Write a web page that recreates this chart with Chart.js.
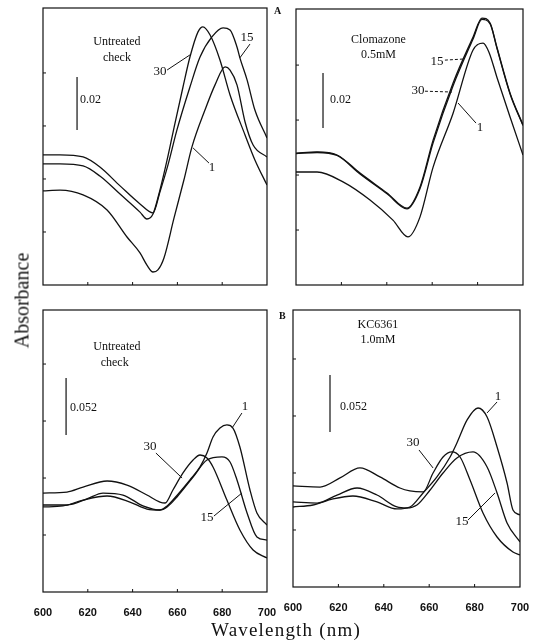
<!DOCTYPE html>
<html lang="en">

<head>
    <meta charset="UTF-8">
    <title>Absorbance spectra</title>
    <script src="https://cdn.jsdelivr.net/npm/chart.js@4.4.0/dist/chart.umd.min.js"></script>
    <style>
        body { margin: 0; background: #fff; }
        #page { position: relative; width: 536px; height: 644px; overflow: hidden; background: #fff; }
        canvas { position: absolute; }
        .lbl { position: absolute; font-family: "Liberation Serif", serif; color: #111; white-space: nowrap; }
    </style>
</head>

<body>
<div id="page">
    <canvas id="tl" width="244" height="295" style="left:33px;top:0px"></canvas>
    <canvas id="tr" width="240" height="295" style="left:286px;top:0px"></canvas>
    <canvas id="bl" width="264" height="322" style="left:23px;top:300px"></canvas>
    <canvas id="br" width="263" height="317" style="left:273px;top:300px"></canvas>

    <div class="lbl" style="left:274px;top:5px;font-size:10px;font-weight:bold">A</div>
    <div class="lbl" style="left:279px;top:310px;font-size:10px;font-weight:bold">B</div>
    <div class="lbl" style="left:-33px;top:289px;font-size:20px;transform:rotate(-90deg);width:110px;text-align:center">Absorbance</div>
    <div class="lbl" style="left:186px;top:619px;width:200px;text-align:center;font-size:19px;letter-spacing:1.2px">Wavelength (nm)</div>
</div>

<script>
    // wavelength ticks shared by all panels
    const xTicks = [600, 620, 640, 660, 680, 700];
    const yTicksA = [0.02, 0.04, 0.06, 0.08];
    const yTicksB = [0.052, 0.104, 0.156, 0.208];

    // A - untreated check (curves 1, 15, 30)
    const aCheckWl1 = [600, 607.6, 617.9, 628.6, 637.5, 643.3, 646.4, 649.1, 651.3, 654.0, 658.5, 662.9, 666.5, 672.3, 676.8, 681.3, 683.5, 686.6, 690.2, 693.8, 700];
    const aCheckAbs1 = [0.0355, 0.0358, 0.0340, 0.0283, 0.0181, 0.0121, 0.0075, 0.0049, 0.0057, 0.0102, 0.0253, 0.0396, 0.0521, 0.0660, 0.0755, 0.0823, 0.0811, 0.0755, 0.0615, 0.0528, 0.0483];
    const aCheckWl15 = [600, 607.6, 617.9, 625.4, 634.4, 643.3, 649.1, 652.2, 655.8, 659.8, 665.6, 670.1, 675.4, 680.4, 683.5, 686.6, 687.9, 691.1, 694.6, 700];
    const aCheckAbs15 = [0.0491, 0.0491, 0.0483, 0.0445, 0.0374, 0.0306, 0.0272, 0.0351, 0.0453, 0.0585, 0.0747, 0.0860, 0.0936, 0.0970, 0.0962, 0.0898, 0.0857, 0.0774, 0.0660, 0.0555];
    const aCheckWl30 = [600, 607.6, 617.9, 625.4, 634.4, 643.3, 646.4, 649.1, 652.2, 655.4, 658.0, 662.5, 665.6, 669.2, 671.4, 674.6, 679.0, 683.5, 690.2, 694.6, 700];
    const aCheckAbs30 = [0.0457, 0.0457, 0.0449, 0.0411, 0.0343, 0.0275, 0.0249, 0.0268, 0.0358, 0.0472, 0.0574, 0.0747, 0.0860, 0.0955, 0.0974, 0.0943, 0.0849, 0.0717, 0.0566, 0.0472, 0.0377];

    // A - clomazone 0.5mM
    const aClomWl1 = [600, 609.3, 620.7, 632.6, 642.7, 649.3, 654.6, 660.4, 669.2, 678.0, 682.4, 685.0, 688.5, 694.3, 700];
    const aClomAbs1 = [0.0411, 0.0411, 0.0375, 0.0309, 0.0236, 0.0175, 0.0247, 0.0429, 0.0625, 0.0855, 0.0880, 0.0847, 0.0756, 0.0611, 0.0473];
    const aClomWl15 = [600, 609.3, 618.1, 628.2, 640.1, 648.9, 654.6, 660.4, 669.2, 678.0, 681.9, 685.5, 688.5, 694.3, 700];
    const aClomAbs15 = [0.0480, 0.0484, 0.0473, 0.0407, 0.0335, 0.0280, 0.0356, 0.0527, 0.0735, 0.0902, 0.0971, 0.0953, 0.0865, 0.0698, 0.0582];
    const aClomWl30 = [600, 609.3, 618.1, 628.2, 640.1, 648.9, 654.6, 660.4, 669.2, 678.0, 681.9, 685.5, 688.5, 694.3, 700];
    const aClomAbs30 = [0.0478, 0.0482, 0.0471, 0.0404, 0.0332, 0.0277, 0.0350, 0.0517, 0.0725, 0.0895, 0.0966, 0.0950, 0.0862, 0.0695, 0.0580];

    // B - untreated check
    const bCheckWl1 = [600, 608.9, 617.9, 628.6, 638.8, 646.4, 652.2, 655.4, 658.0, 665.6, 670.1, 673.2, 675.9, 679.0, 682.1, 684.8, 687.9, 692.4, 695.5, 700];
    const bCheckAbs1 = [0.0776, 0.0785, 0.0839, 0.0876, 0.0821, 0.0757, 0.0748, 0.0785, 0.0839, 0.1022, 0.1141, 0.1268, 0.1414, 0.1496, 0.1524, 0.1496, 0.1323, 0.0931, 0.0721, 0.0611];
    const bCheckWl15 = [600, 610.7, 619.6, 626.8, 635.7, 644.6, 649.1, 652.2, 655.4, 659.8, 667.0, 673.2, 679.9, 683.5, 686.6, 691.1, 695.5, 700];
    const bCheckAbs15 = [0.0794, 0.0794, 0.0849, 0.0903, 0.0885, 0.0785, 0.0757, 0.0748, 0.0776, 0.0867, 0.1049, 0.1204, 0.1232, 0.1186, 0.1022, 0.0721, 0.0502, 0.0474];
    const bCheckWl30 = [600, 610.7, 617.9, 628.6, 637.5, 646.4, 652.2, 654.5, 658.0, 662.5, 667.0, 670.1, 673.2, 675.9, 682.1, 687.9, 693.8, 700];
    const bCheckAbs30 = [0.0903, 0.0912, 0.0958, 0.1013, 0.0976, 0.0885, 0.0821, 0.0812, 0.0931, 0.1086, 0.1204, 0.1250, 0.1223, 0.1141, 0.0839, 0.0566, 0.0383, 0.0310];

    // B - KC6361 1.0mM
    const bKcWl1 = [600, 608.8, 617.6, 626.4, 637.0, 645.8, 651.5, 657.3, 663.4, 669.2, 672.2, 676.7, 681.5, 685.5, 689.9, 694.3, 696.9, 700];
    const bKcAbs1 = [0.0730, 0.0748, 0.0803, 0.0830, 0.0776, 0.0712, 0.0730, 0.0858, 0.1004, 0.1186, 0.1314, 0.1524, 0.1633, 0.1551, 0.1277, 0.0949, 0.0703, 0.0657];
    const bKcWl15 = [600, 610.6, 619.4, 628.2, 637.0, 645.8, 650.2, 654.6, 660.4, 666.1, 672.2, 679.3, 685.5, 689.9, 694.3, 700];
    const bKcAbs15 = [0.0776, 0.0766, 0.0839, 0.0903, 0.0839, 0.0730, 0.0721, 0.0748, 0.0885, 0.1040, 0.1177, 0.1232, 0.1095, 0.0858, 0.0584, 0.0411];
    const bKcWl30 = [600, 611.9, 620.7, 629.5, 638.3, 647.1, 651.5, 657.3, 661.7, 666.1, 670.0, 673.6, 678.0, 683.7, 689.9, 696.9, 700];
    const bKcAbs30 = [0.0922, 0.0912, 0.0995, 0.1086, 0.1004, 0.0903, 0.0876, 0.0867, 0.1040, 0.1186, 0.1232, 0.1186, 0.0976, 0.0675, 0.0456, 0.0319, 0.0292];

    const FONT = '"Liberation Serif", serif';

    function pts(wl, abs) {
        return wl.map((w, i) => ({ x: w, y: abs[i] }));
    }

    // frame, inward ticks, scale bar and curve labels
    function framePlugin(yTicks, notes) {
        return {
            id: 'frame',
            afterDatasetsDraw(chart) {
                const ctx = chart.ctx;
                const a = chart.chartArea;
                const sx = chart.scales.x;
                const sy = chart.scales.y;
                ctx.save();
                ctx.strokeStyle = '#111';
                ctx.fillStyle = '#111';
                ctx.lineWidth = 1.2;
                ctx.strokeRect(a.left, a.top, a.right - a.left, a.bottom - a.top);
                ctx.lineWidth = 1;
                xTicks.slice(1, -1).forEach(v => {
                    const px = sx.getPixelForValue(v);
                    ctx.beginPath();
                    ctx.moveTo(px, a.bottom);
                    ctx.lineTo(px, a.bottom - 3);
                    ctx.stroke();
                });
                yTicks.forEach(v => {
                    const py = sy.getPixelForValue(v);
                    ctx.beginPath();
                    ctx.moveTo(a.left, py);
                    ctx.lineTo(a.left + 3, py);
                    ctx.stroke();
                });
                // scale bar
                const b = notes.bar;
                ctx.lineWidth = 1.2;
                ctx.beginPath();
                ctx.moveTo(sx.getPixelForValue(b.x), sy.getPixelForValue(b.y1));
                ctx.lineTo(sx.getPixelForValue(b.x), sy.getPixelForValue(b.y2));
                ctx.stroke();
                // leader lines
                ctx.lineWidth = 1;
                notes.lines.forEach(l => {
                    ctx.setLineDash(l.dash ? [3, 2] : []);
                    ctx.beginPath();
                    ctx.moveTo(sx.getPixelForValue(l.x1), sy.getPixelForValue(l.y1));
                    ctx.lineTo(sx.getPixelForValue(l.x2), sy.getPixelForValue(l.y2));
                    ctx.stroke();
                });
                ctx.setLineDash([]);
                ctx.textBaseline = 'middle';
                notes.texts.forEach(t => {
                    ctx.font = (t.size || 13) + 'px ' + FONT;
                    ctx.textAlign = t.align || 'center';
                    ctx.fillText(t.t, sx.getPixelForValue(t.x), sy.getPixelForValue(t.y));
                });
                ctx.restore();
            }
        };
    }

    function makePanel(id, series, yMax, yTicks, showX, pad, notes) {
        const ctx = document.getElementById(id).getContext('2d');
        const xScale = {
            type: 'linear',
            min: 600,
            max: 700,
            display: showX,
            afterBuildTicks: axis => { axis.ticks = xTicks.map(v => ({ value: v })); },
            grid: { display: false, drawTicks: false },
            border: { display: false },
            ticks: {
                padding: 14,
                color: '#111',
                maxRotation: 0,
                font: { family: '"Liberation Sans", sans-serif', size: 11, weight: 'bold' }
            }
        };
        // fixed axis height, and no extra side room for the end labels
        if (showX) xScale.afterFit = axis => {
            axis.height = 30;
            axis.paddingLeft = 0;
            axis.paddingRight = 0;
        };
        return new Chart(ctx, {
            type: 'line',
            data: {
                datasets: series.map(s => ({
                    label: s.label,
                    data: pts(s.wl, s.abs),
                    borderColor: '#111',
                    borderWidth: 1.3,
                    pointRadius: 0,
                    fill: false,
                    cubicInterpolationMode: 'monotone'
                }))
            },
            options: {
                responsive: false,
                animation: false,
                devicePixelRatio: 1,
                layout: { padding: pad, autoPadding: false },
                plugins: { legend: { display: false }, tooltip: { enabled: false } },
                scales: {
                    x: xScale,
                    y: {
                        type: 'linear',
                        min: 0,
                        max: yMax,
                        display: false
                    }
                }
            },
            plugins: [framePlugin(yTicks, notes)]
        });
    }

    makePanel('tl', [
        { label: '1', wl: aCheckWl1, abs: aCheckAbs1 },
        { label: '15', wl: aCheckWl15, abs: aCheckAbs15 },
        { label: '30', wl: aCheckWl30, abs: aCheckAbs30 }
    ], 0.1045, yTicksA, false, { left: 10, right: 10, top: 8, bottom: 10 }, {
        bar: { x: 615.2, y1: 0.0585, y2: 0.0785 },
        lines: [
            { x1: 655.4, y1: 0.0811, x2: 665.6, y2: 0.0868 },
            { x1: 692.4, y1: 0.0909, x2: 687.9, y2: 0.0857 },
            { x1: 674.1, y1: 0.0460, x2: 667.0, y2: 0.0517 }
        ],
        texts: [
            { t: 'Untreated', x: 633, y: 0.0917, size: 12 },
            { t: 'check', x: 633, y: 0.0857, size: 12 },
            { t: '0.02', x: 616.5, y: 0.0698, align: 'left', size: 12 },
            { t: '30', x: 652.2, y: 0.0804 },
            { t: '15', x: 691.1, y: 0.0932 },
            { t: '1', x: 675.4, y: 0.0442 }
        ]
    });

    makePanel('tr', [
        { label: '1', wl: aClomWl1, abs: aClomAbs1 },
        { label: '15', wl: aClomWl15, abs: aClomAbs15 },
        { label: '30', wl: aClomWl30, abs: aClomAbs30 }
    ], 0.1004, yTicksA, false, { left: 10, right: 3, top: 9, bottom: 10 }, {
        bar: { x: 611.9, y1: 0.0571, y2: 0.0771 },
        lines: [
            { x1: 665.6, y1: 0.0818, x2: 673.6, y2: 0.0822, dash: true },
            { x1: 656.8, y1: 0.0705, x2: 668.7, y2: 0.0702, dash: true },
            { x1: 679.3, y1: 0.0589, x2: 671.4, y2: 0.0662 }
        ],
        texts: [
            { t: 'Clomazone', x: 636.3, y: 0.0891, size: 12 },
            { t: '0.5mM', x: 636.3, y: 0.0836, size: 12 },
            { t: '0.02', x: 615.0, y: 0.0673, align: 'left', size: 12 },
            { t: '15', x: 662.1, y: 0.0811 },
            { t: '30', x: 653.7, y: 0.0709 },
            { t: '1', x: 681.1, y: 0.0571 }
        ]
    });

    makePanel('bl', [
        { label: '1', wl: bCheckWl1, abs: bCheckAbs1 },
        { label: '15', wl: bCheckWl15, abs: bCheckAbs15 },
        { label: '30', wl: bCheckWl30, abs: bCheckAbs30 }
    ], 0.2573, yTicksB, true, { left: 20, right: 20, top: 10, bottom: 0 }, {
        bar: { x: 610.3, y1: 0.1432, y2: 0.1953 },
        lines: [
            { x1: 650.4, y1: 0.1268, x2: 662.1, y2: 0.1040 },
            { x1: 688.8, y1: 0.1633, x2: 684.4, y2: 0.1496 },
            { x1: 676.3, y1: 0.0693, x2: 688.8, y2: 0.0903 }
        ],
        texts: [
            { t: 'Untreated', x: 633, y: 0.2235, size: 12 },
            { t: 'check', x: 632, y: 0.2089, size: 12 },
            { t: '0.052', x: 612.1, y: 0.1679, align: 'left', size: 12 },
            { t: '30', x: 647.8, y: 0.1323 },
            { t: '1', x: 690.2, y: 0.1688 },
            { t: '15', x: 673.2, y: 0.0675 }
        ]
    });

    makePanel('br', [
        { label: '1', wl: bKcWl1, abs: bKcAbs1 },
        { label: '15', wl: bKcWl15, abs: bKcAbs15 },
        { label: '30', wl: bKcWl30, abs: bKcAbs30 }
    ], 0.2527, yTicksB, true, { left: 20, right: 16, top: 10, bottom: 0 }, {
        bar: { x: 616.3, y1: 0.1414, y2: 0.1934 },
        lines: [
            { x1: 655.5, y1: 0.1250, x2: 661.7, y2: 0.1086 },
            { x1: 689.9, y1: 0.1688, x2: 685.5, y2: 0.1588 },
            { x1: 677.1, y1: 0.0611, x2: 689.0, y2: 0.0858 }
        ],
        texts: [
            { t: 'KC6361', x: 637.4, y: 0.2391, size: 12 },
            { t: '1.0mM', x: 637.4, y: 0.2254, size: 12 },
            { t: '0.052', x: 620.7, y: 0.1642, align: 'left', size: 12 },
            { t: '30', x: 652.9, y: 0.1314 },
            { t: '1', x: 690.3, y: 0.1734 },
            { t: '15', x: 674.4, y: 0.0593 }
        ]
    });
</script>
</body>

</html>
